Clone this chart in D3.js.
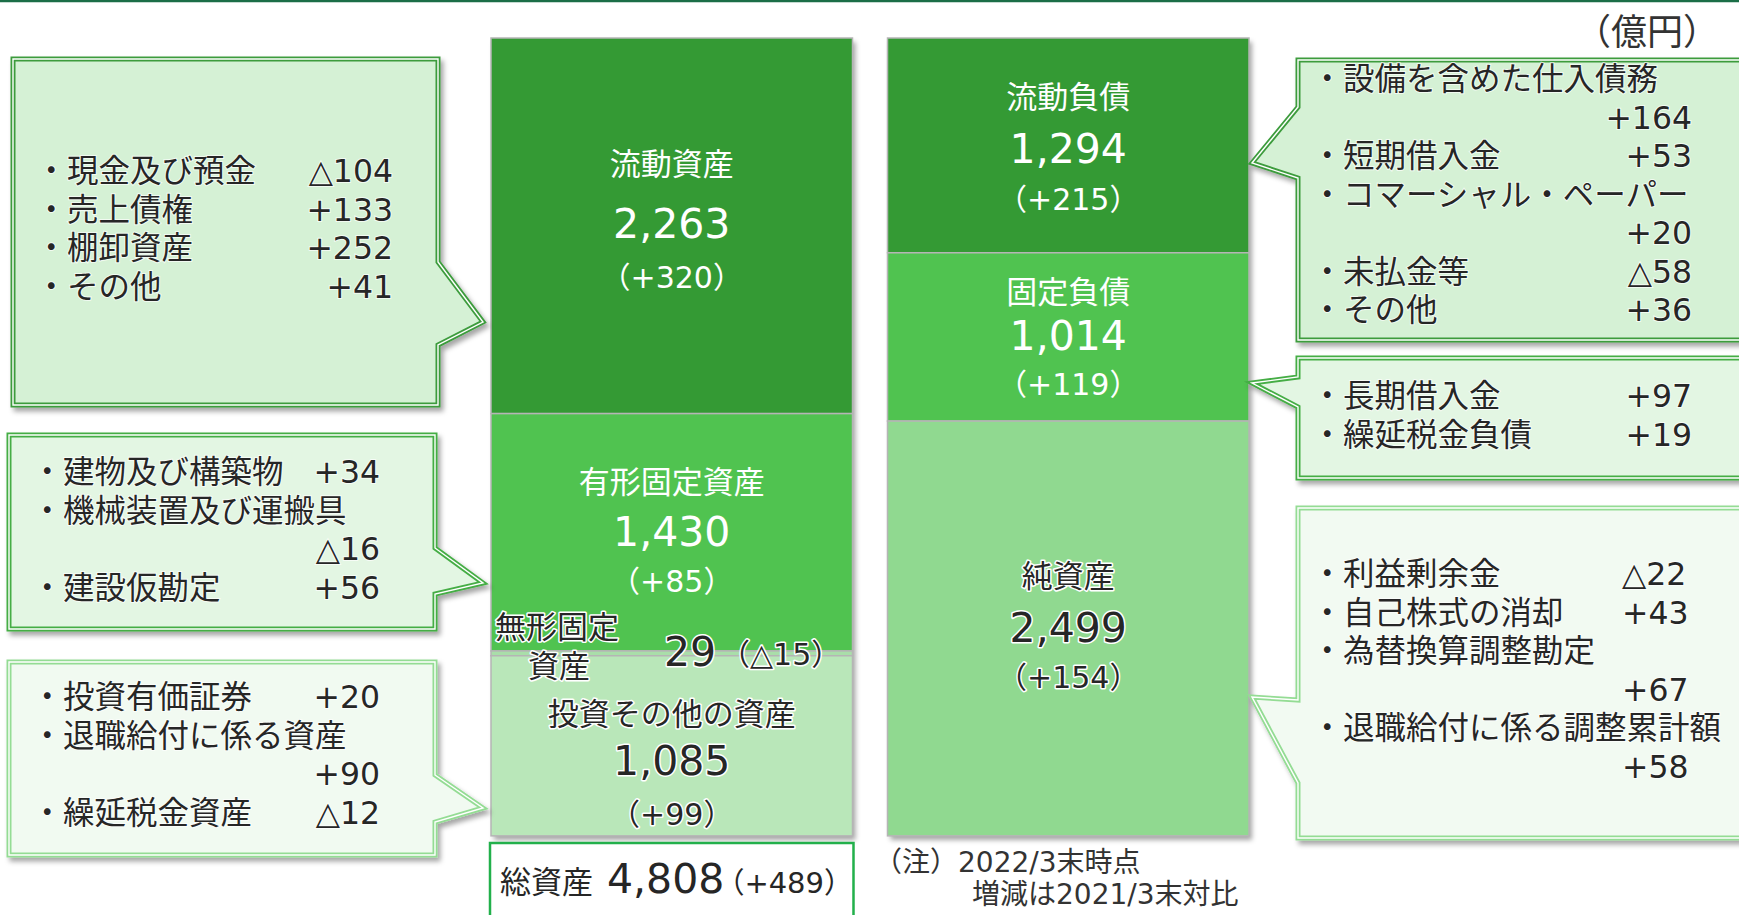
<!DOCTYPE html>
<html>
<head>
<meta charset="utf-8">
<script src="https://cdn.jsdelivr.net/npm/d3@7"></script>
<style>
  body { margin: 0; background: #fff; }
  svg text { font-family: 'DejaVu Sans', 'Noto Sans CJK JP', sans-serif; }
</style>
</head>
<body>
<div id="viz"></div>
<script>
/* global d3 */
(function balanceSheet() {
  const svgWidth = 1739;
  const svgHeight = 915;

  const darkGreen = '#349a34';
  const midGreen = '#50c350';
  const textDark = '#262626';

  // 資産の部
  const assetNames = ['流動資産', '有形固定資産', '無形固定資産', '投資その他の資産'];
  const assetValues = [2263, 1430, 29, 1085];
  const assetChanges = ['+320', '+85', '△15', '+99'];

  // 負債・純資産の部
  const liabNames = ['流動負債', '固定負債', '純資産'];
  const liabValues = [1294, 1014, 2499];
  const liabChanges = ['+215', '+119', '+154'];

  const totalAssets = 4808;
  const totalChange = '+489';

  // 吹き出しの内訳 [項目, 増減, 折り返し]
  const currentAssetItems = [['現金及び預金', '△104'], ['売上債権', '+133'], ['棚卸資産', '+252'], ['その他', '+41']];
  const tangibleItems = [['建物及び構築物', '+34'], ['機械装置及び運搬具', '△16', true], ['建設仮勘定', '+56']];
  const investItems = [['投資有価証券', '+20'], ['退職給付に係る資産', '+90', true], ['繰延税金資産', '△12']];
  const currentLiabItems = [['設備を含めた仕入債務', '+164', true], ['短期借入金', '+53'], ['コマーシャル・ペーパー', '+20', true], ['未払金等', '△58'], ['その他', '+36']];
  const fixedLiabItems = [['長期借入金', '+97'], ['繰延税金負債', '+19']];
  const netAssetItems = [['利益剰余金', '△22'], ['自己株式の消却', '+43'], ['為替換算調整勘定', '+67', true], ['退職給付に係る調整累計額', '+58', true]];

  const assetColors = [darkGreen, midGreen, '#a9dea9', '#b9e7b9'];
  const liabColors = [darkGreen, midGreen, '#90d990'];
  const assetTextColors = ['#fff', '#fff', textDark, textDark];
  const liabTextColors = ['#fff', '#fff', textDark];
  // label / value / change baselines relative to segment centre
  const assetTextDy = [[-51, 12, 62], [-39, 14, 60], null, [-21, 29, 79]];
  const liabTextDy = [[-37, 18, 65], [-34, 13, 58], [-41, 14, 60]];

  const xScale = d3.scaleBand()
    .domain(['assets', 'liabilities'])
    .range([491, 1249])
    .paddingInner(0.0883);

  const yScale = d3.scaleLinear()
    .domain([0, totalAssets])
    .range([38, 836]);

  const svg = d3.select('#viz').append('svg')
    .attr('width', svgWidth)
    .attr('height', svgHeight);

  const defs = svg.append('defs');
  defs.append('filter')
    .attr('id', 'shadow')
    .attr('x', '-10%').attr('y', '-10%')
    .attr('width', '130%').attr('height', '130%')
    .append('feDropShadow')
    .attr('dx', 3).attr('dy', 4)
    .attr('stdDeviation', 2.5)
    .attr('flood-color', '#000')
    .attr('flood-opacity', 0.35);

  // top rule
  svg.append('line')
    .attr('x1', 0).attr('x2', svgWidth)
    .attr('y1', 1).attr('y2', 1)
    .attr('stroke', '#1b6e47')
    .attr('stroke-width', 2.5);

  svg.append('text')
    .text('（億円）')
    .attr('x', 1575).attr('y', 45)
    .style('font-size', '36px')
    .style('fill', '#333');

  function stack(values) {
    let acc = 0;
    return values.map((v) => {
      const d = { y0: acc, y1: acc + v };
      acc += v;
      return d;
    });
  }

  function drawColumn(key, names, values, changes, colors, textColors, textDy) {
    const segs = stack(values).map((s, i) => Object.assign(s, {
      name: names[i], value: values[i], change: changes[i], color: colors[i], textColor: textColors[i], dy: textDy[i],
    }));
    const x0 = xScale(key);
    const w = xScale.bandwidth();
    const col = svg.append('g').attr('class', `col-${key}`);

    col.append('rect')
      .attr('x', x0).attr('y', yScale(0))
      .attr('width', w).attr('height', yScale(totalAssets) - yScale(0))
      .attr('fill', '#fff')
      .attr('filter', 'url(#shadow)');

    col.selectAll('rect.seg')
      .data(segs)
      .enter()
      .append('rect')
      .attr('class', 'seg')
      .attr('x', x0)
      .attr('y', d => yScale(d.y0))
      .attr('width', w)
      .attr('height', d => yScale(d.y1) - yScale(d.y0))
      .attr('fill', d => d.color)
      .attr('stroke', '#b5b5b5')
      .attr('stroke-width', 1.5);

    const labelled = segs.filter(d => d.dy);
    const cx = x0 + w / 2;
    const mid = d => (yScale(d.y0) + yScale(d.y1)) / 2;

    const g = col.selectAll('g.lbl')
      .data(labelled)
      .enter()
      .append('g')
      .attr('class', 'lbl');

    const halo = t => t
      .style('stroke', d => (d.textColor === '#fff' ? 'none' : '#fff'))
      .style('stroke-width', 3)
      .style('paint-order', 'stroke')
      .style('stroke-linejoin', 'round');

    g.append('text')
      .text(d => d.name)
      .attr('x', cx).attr('y', d => mid(d) + d.dy[0])
      .style('text-anchor', 'middle')
      .style('font-size', '31px')
      .style('fill', d => d.textColor)
      .call(halo);

    g.append('text')
      .text(d => d3.format(',')(d.value))
      .attr('x', cx).attr('y', d => mid(d) + d.dy[1])
      .style('text-anchor', 'middle')
      .style('font-size', '41px')
      .style('fill', d => d.textColor)
      .call(halo);

    g.append('text')
      .text(d => `（${d.change}）`)
      .attr('x', cx).attr('y', d => mid(d) + d.dy[2])
      .style('text-anchor', 'middle')
      .style('font-size', '30px')
      .style('fill', d => d.textColor)
      .call(halo);

    return segs;
  }

  const assetSegs = drawColumn('assets', assetNames, assetValues, assetChanges, assetColors, assetTextColors, assetTextDy);
  drawColumn('liabilities', liabNames, liabValues, liabChanges, liabColors, liabTextColors, liabTextDy);

  // 無形固定資産 (thin slice, labelled beside)
  const intangible = assetSegs[2];
  const intY = yScale(intangible.y1);
  const intG = svg.append('g').attr('class', 'intangible')
    .style('fill', textDark)
    .style('stroke', '#fff')
    .style('stroke-width', 3)
    .style('paint-order', 'stroke')
    .style('stroke-linejoin', 'round');
  intG.append('text').text(intangible.name.slice(0, 4))
    .attr('x', 495).attr('y', intY - 18)
    .style('font-size', '31px');
  intG.append('text').text(intangible.name.slice(4))
    .attr('x', 528).attr('y', intY + 21)
    .style('font-size', '31px');
  intG.append('text').text(intangible.value)
    .attr('x', 664).attr('y', intY + 10)
    .style('font-size', '41px');
  intG.append('text').text(`（${intangible.change}）`)
    .attr('x', 720).attr('y', intY + 9)
    .style('font-size', '30px');

  // 総資産 box
  const ax = xScale('assets');
  svg.append('rect')
    .attr('x', ax - 1).attr('y', 843)
    .attr('width', xScale.bandwidth() + 2).attr('height', 90)
    .attr('fill', '#fff')
    .attr('stroke', '#22b04b')
    .attr('stroke-width', 2.5);
  const totalText = svg.append('text')
    .attr('x', ax + 9).attr('y', 893)
    .style('fill', textDark);
  totalText.append('tspan').text('総資産').style('font-size', '31px');
  totalText.append('tspan').text(d3.format(',')(totalAssets))
    .attr('x', ax + 116)
    .style('font-size', '41px');
  totalText.append('tspan').text(`（${totalChange}）`)
    .attr('dx', -9)
    .style('font-size', '29px');

  // 注記
  const note = svg.append('text').style('font-size', '28px').style('fill', '#333');
  note.append('tspan').text('（注）2022/3末時点').attr('x', 874).attr('y', 872);
  note.append('tspan').text('増減は2021/3末対比').attr('x', 972).attr('y', 904);

  // 吹き出し
  const callouts = [
    { rows: currentAssetItems, side: 'left', box: [13, 59, 425, 346], notch: [262, 345], tipY: 322, first: 182, textX: 67, valX: 393, anchor: 'end', fill: '#d5f1d5', stroke: '#3c9c3c' },
    { rows: tangibleItems, side: 'left', box: [9, 435, 426, 194], notch: [548, 594], tipY: 583, first: 483, textX: 63, valX: 380, anchor: 'end', fill: '#e3f6e3', stroke: '#45ad45' },
    { rows: investItems, side: 'left', box: [9, 662, 426, 193], notch: [775, 822], tipY: 808, first: 708, textX: 63, valX: 380, anchor: 'end', fill: '#f1faf1', stroke: '#94dc94' },
    { rows: currentLiabItems, side: 'right', box: [1298, 60, 470, 280], notch: [107, 178], tipY: 163, first: 90, textX: 1343, valX: 1692, anchor: 'end', fill: '#d5f1d5', stroke: '#3c9c3c' },
    { rows: fixedLiabItems, side: 'right', box: [1298, 358, 470, 120], notch: [377, 407], tipY: 383, first: 407, textX: 1343, valX: 1692, anchor: 'end', fill: '#e3f6e3', stroke: '#45ad45' },
    { rows: netAssetItems, side: 'right', box: [1298, 508, 470, 330], notch: [700, 783], tipY: 697, first: 585, textX: 1343, valX: 1622, anchor: 'start', fill: '#f2faf2', stroke: '#94dc94' },
  ];
  const lineH = 38.5;

  function calloutPath(c) {
    const [x, y, w, h] = c.box;
    const p = d3.path();
    if (c.side === 'left') {
      const tipX = xScale('assets') - 8;
      p.moveTo(x, y);
      p.lineTo(x + w, y);
      p.lineTo(x + w, c.notch[0]);
      p.lineTo(tipX, c.tipY);
      p.lineTo(x + w, c.notch[1]);
      p.lineTo(x + w, y + h);
      p.lineTo(x, y + h);
    } else {
      const tipX = xScale('liabilities') + xScale.bandwidth() + 3;
      p.moveTo(x, y);
      p.lineTo(x + w, y);
      p.lineTo(x + w, y + h);
      p.lineTo(x, y + h);
      p.lineTo(x, c.notch[1]);
      p.lineTo(tipX, c.tipY);
      p.lineTo(x, c.notch[0]);
    }
    p.closePath();
    return p.toString();
  }

  const calloutG = svg.selectAll('g.callout')
    .data(callouts)
    .enter()
    .append('g')
    .attr('class', 'callout');

  calloutG.append('path')
    .attr('d', calloutPath)
    .attr('fill', d => d.fill)
    .attr('stroke', d => d.stroke)
    .attr('stroke-width', 5)
    .attr('stroke-linejoin', 'miter')
    .attr('filter', 'url(#shadow)');

  calloutG.append('path')
    .attr('d', calloutPath)
    .attr('fill', 'none')
    .attr('stroke', '#fff')
    .attr('stroke-width', 1.4)
    .attr('stroke-linejoin', 'miter');

  calloutG.each(function drawRows(c) {
    const g = d3.select(this);
    let line = 0;
    c.rows.forEach(([label, value, wrap]) => {
      const yLabel = c.first + line * lineH;
      g.append('text')
        .text(`・${label}`)
        .attr('x', c.textX - 31.5)
        .attr('y', yLabel);
      if (wrap) line += 1;
      g.append('text')
        .text(value)
        .attr('x', c.valX)
        .attr('y', c.first + line * lineH)
        .style('text-anchor', c.anchor);
      line += 1;
    });
    g.selectAll('text')
      .style('font-size', '31.5px')
      .style('fill', textDark)
      .style('stroke', '#fff')
      .style('stroke-width', 2)
      .style('stroke-opacity', 0.7)
      .style('paint-order', 'stroke');
  });
}());
</script>
</body>
</html>
